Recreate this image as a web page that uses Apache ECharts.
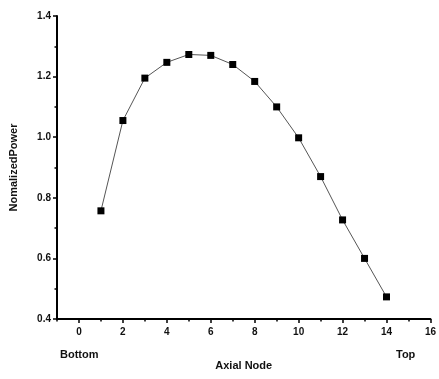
<!DOCTYPE html>
<html lang="en">
<head>
    <meta charset="UTF-8">
    <title>Normalized Power</title>
    <style>
        html, body { margin: 0; padding: 0; background: #fff; }
        #chart { width: 439px; height: 379px; }
    </style>
</head>
<body>
<div id="chart"></div>
<script src="https://cdn.jsdelivr.net/npm/echarts@6/dist/echarts.min.js"></script>
<script>
    var nodes = [1, 2, 3, 4, 5, 6, 7, 8, 9, 10, 11, 12, 13, 14];
    var power = [0.757, 1.055, 1.195, 1.247, 1.273, 1.270, 1.240, 1.184, 1.100, 0.998, 0.870, 0.727, 0.600, 0.473];
    var xMajor = [0, 2, 4, 6, 8, 10, 12, 14, 16];
    var xMinor = [-1, 1, 3, 5, 7, 9, 11, 13, 15];

    var font = 'Liberation Sans, Arial, sans-serif';
    var data = nodes.map(function (n, i) { return [n, power[i]]; });

    var option = {
        animation: false,
        grid: { left: 57, right: 5, top: 16, bottom: 60 },
        xAxis: [
            {
                type: 'value',
                min: -1,
                max: 16,
                name: 'Axial Node',
                nameLocation: 'middle',
                nameGap: 41,
                nameTextStyle: { fontFamily: font, fontWeight: 'bold', fontSize: 11, color: '#111' },
                splitLine: { show: false },
                axisLine: { onZero: false, lineStyle: { color: '#000', width: 2 } },
                axisTick: { customValues: xMajor, length: 4, lineStyle: { color: '#000', width: 1.5 } },
                axisLabel: { customValues: xMajor, fontFamily: font, fontWeight: 'bold', fontSize: 10, color: '#111', margin: 8 }
            },
            {
                type: 'value',
                min: -1,
                max: 16,
                position: 'bottom',
                splitLine: { show: false },
                axisLine: { show: false, onZero: false },
                axisTick: { customValues: xMinor, length: 2.5, lineStyle: { color: '#000', width: 1.5 } },
                axisLabel: { show: false }
            }
        ],
        yAxis: {
            type: 'value',
            min: 0.4,
            max: 1.4,
            interval: 0.2,
            name: 'NomalizedPower',
            nameLocation: 'middle',
            nameGap: 38,
            nameTextStyle: { fontFamily: font, fontWeight: 'bold', fontSize: 11, color: '#111' },
            splitLine: { show: false },
            axisLine: { show: true, onZero: false, lineStyle: { color: '#000', width: 2 } },
            axisTick: { length: 4, lineStyle: { color: '#000', width: 1.5 } },
            minorTick: { show: true, splitNumber: 2, length: 2.5, lineStyle: { color: '#000', width: 1.5 } },
            axisLabel: {
                fontFamily: font, fontWeight: 'bold', fontSize: 10, color: '#111', margin: 6,
                formatter: function (v) { return v.toFixed(1); }
            }
        },
        graphic: [
            { type: 'text', left: 60, top: 349, style: { text: 'Bottom', font: 'bold 11px ' + font, fill: '#111' } },
            { type: 'text', left: 396, top: 349, style: { text: 'Top', font: 'bold 11px ' + font, fill: '#111' } }
        ],
        series: [
            {
                type: 'line',
                data: data,
                symbol: 'rect',
                symbolSize: 7,
                itemStyle: { color: '#000' },
                lineStyle: { color: '#555', width: 1 }
            }
        ]
    };

    var myChart = echarts.init(document.getElementById('chart'));
    myChart.setOption(option);
</script>
</body>
</html>
